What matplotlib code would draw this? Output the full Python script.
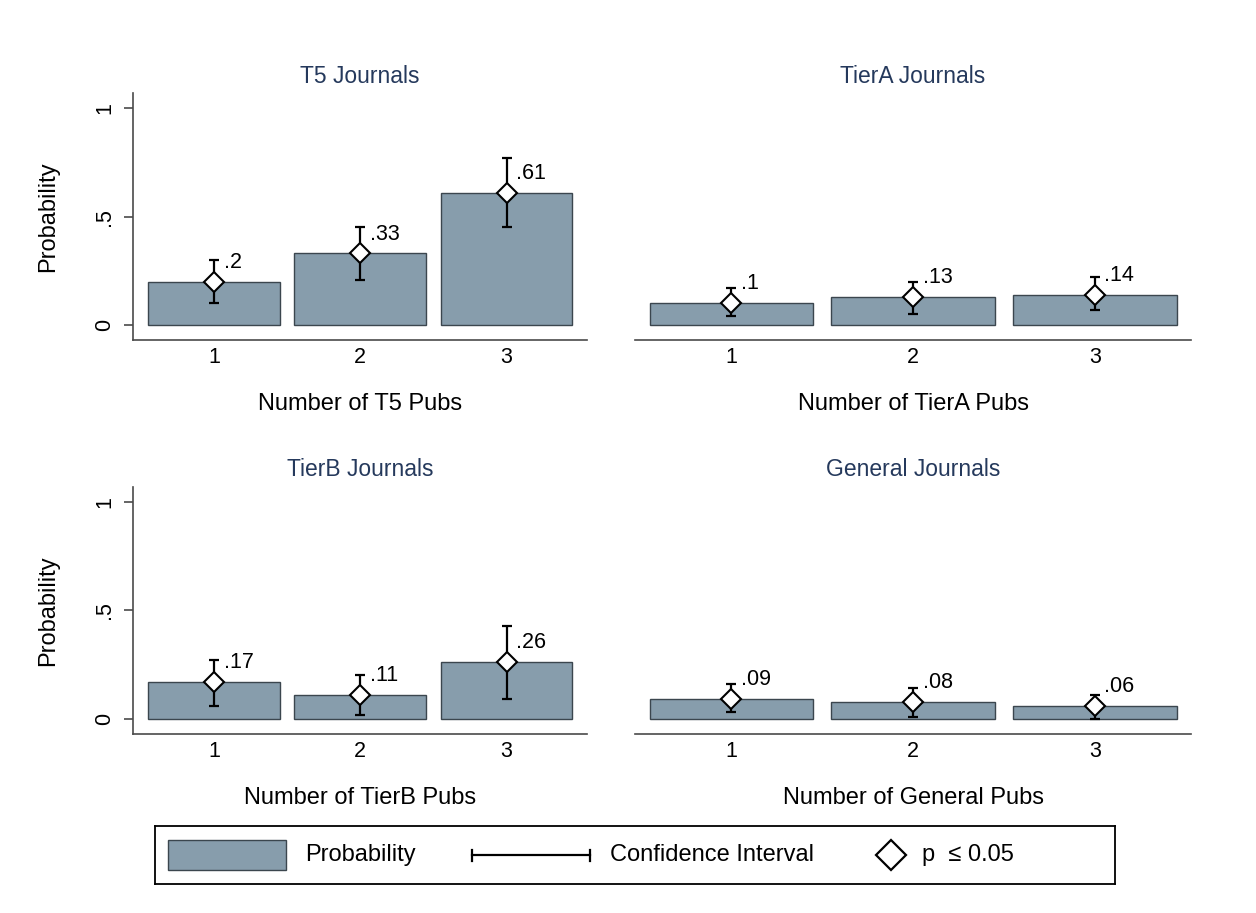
import numpy as np
import matplotlib
matplotlib.use("Agg")
import matplotlib.pyplot as plt
from matplotlib.patches import Rectangle

plt.rcParams['font.family'] = ['Liberation Sans', 'DejaVu Sans']

# data
pubs = [1, 2, 3]
titles = ['T5 Journals', 'TierA Journals', 'TierB Journals', 'General Journals']
xlabels = ['Number of T5 Pubs', 'Number of TierA Pubs',
           'Number of TierB Pubs', 'Number of General Pubs']

prob_t5 = [0.20, 0.33, 0.61]
lo_t5 = [0.10, 0.21, 0.45]
hi_t5 = [0.30, 0.45, 0.77]

prob_tierA = [0.10, 0.13, 0.14]
lo_tierA = [0.04, 0.05, 0.07]
hi_tierA = [0.17, 0.20, 0.22]

prob_tierB = [0.17, 0.11, 0.26]
lo_tierB = [0.06, 0.02, 0.09]
hi_tierB = [0.27, 0.20, 0.43]

prob_gen = [0.09, 0.08, 0.06]
lo_gen = [0.03, 0.01, 0.00]
hi_gen = [0.16, 0.14, 0.11]

yticks = [0, 0.5, 1]
yticklabels = ['0', '.5', '1']

probs = [prob_t5, prob_tierA, prob_tierB, prob_gen]
los = [lo_t5, lo_tierA, lo_tierB, lo_gen]
his = [hi_t5, hi_tierA, hi_tierB, hi_gen]

bar_col = '#879dac'
edge_col = '#3b464e'
title_col = '#25395c'
axis_col = '#4a4a4a'

fig = plt.figure(figsize=(12.56, 9.13), dpi=100)

# [left, bottom, width, height] in figure fraction, one per panel
panel_pos = [[0.1057, 0.6271, 0.3617, 0.2708],
             [0.5056, 0.6271, 0.4427, 0.2708],
             [0.1057, 0.1957, 0.3617, 0.2712],
             [0.5056, 0.1957, 0.4427, 0.2712]]

for i in range(4):
    ax = fig.add_axes(panel_pos[i])
    p = np.array(probs[i])
    lo = np.array(los[i])
    hi = np.array(his[i])
    left_col = (i % 2 == 0)

    ax.bar(pubs, p, width=0.9, color=bar_col, edgecolor=edge_col, linewidth=1.0, zorder=2)
    ax.errorbar(pubs, p, yerr=[p - lo, hi - p], fmt='none', ecolor='black',
                elinewidth=1.6, capsize=3.6, capthick=1.6, zorder=3)
    ax.plot(pubs, p, 'D', ms=10.5, mfc='white', mec='black', mew=1.5, zorder=4)

    for x, v in zip(pubs, p):
        lab = ('%g' % v).lstrip('0')
        ax.annotate(lab, (x, v), xytext=(7.0, 14), textcoords='offset points',
                    ha='left', va='center', fontsize=15.5, zorder=5)

    ax.set_ylim(-0.071, 1.069)
    if left_col:
        ax.set_xlim(0.446, 3.55)
    else:
        ax.set_xlim(0.47, 3.53)

    ax.spines['top'].set_visible(False)
    ax.spines['right'].set_visible(False)
    ax.spines['bottom'].set_color(axis_col)
    ax.spines['bottom'].set_linewidth(1.2)
    ax.set_xticks(pubs)
    ax.tick_params(axis='x', length=0, pad=5, labelsize=15.5)

    if left_col:
        ax.spines['left'].set_color(axis_col)
        ax.spines['left'].set_linewidth(1.2)
        ax.set_yticks(yticks)
        ax.set_yticklabels(yticklabels)
        ax.tick_params(axis='y', length=6.5, width=1.2, color=axis_col,
                       pad=6, labelsize=15.5, labelrotation=90)
        for t in ax.get_yticklabels():
            t.set_va('center')
        ax.annotate('Probability', xy=(0, 0.5), xycoords='axes fraction',
                    xytext=(-61, 0), textcoords='offset points', rotation=90,
                    ha='center', va='center', fontsize=17)
    else:
        ax.spines['left'].set_visible(False)
        ax.set_yticks([])

    ax.annotate(titles[i], xy=(0.5, 1), xycoords='axes fraction',
                xytext=(0, 12.2), textcoords='offset points',
                ha='center', va='center', fontsize=16.5, color=title_col)
    ax.annotate(xlabels[i], xy=(0.5, 0), xycoords='axes fraction',
                xytext=(0, -46), textcoords='offset points',
                ha='center', va='center', fontsize=17)

# legend drawn in its own box, coordinates in pixels of the box
lw_px, lh_px = 960, 58
lax = fig.add_axes([155 / 1256, 1 - 884 / 913, lw_px / 1256, lh_px / 913])
lax.set_xlim(0, lw_px)
lax.set_ylim(0, lh_px)
lax.set_xticks([])
lax.set_yticks([])
for s in lax.spines.values():
    s.set_linewidth(1.3)
    s.set_color('black')
ymid = lh_px / 2
lax.add_patch(Rectangle((13, ymid - 15), 118, 30, facecolor=bar_col,
                        edgecolor=edge_col, linewidth=1.0))
lax.text(150, ymid, 'Probability', ha='left', va='center', fontsize=17)
lax.plot([317, 435], [ymid, ymid], color='black', lw=1.6)
lax.plot([317, 317], [ymid - 5.5, ymid + 5.5], color='black', lw=1.6)
lax.plot([435, 435], [ymid - 5.5, ymid + 5.5], color='black', lw=1.6)
lax.text(455, ymid, 'Confidence Interval', ha='left', va='center', fontsize=17)
lax.plot([736], [ymid], 'D', ms=15.5, mfc='white', mec='black', mew=1.6)
lax.text(767, ymid, 'p  \u2264 0.05', ha='left', va='center', fontsize=17)

fig.savefig('out.png', dpi=100)
